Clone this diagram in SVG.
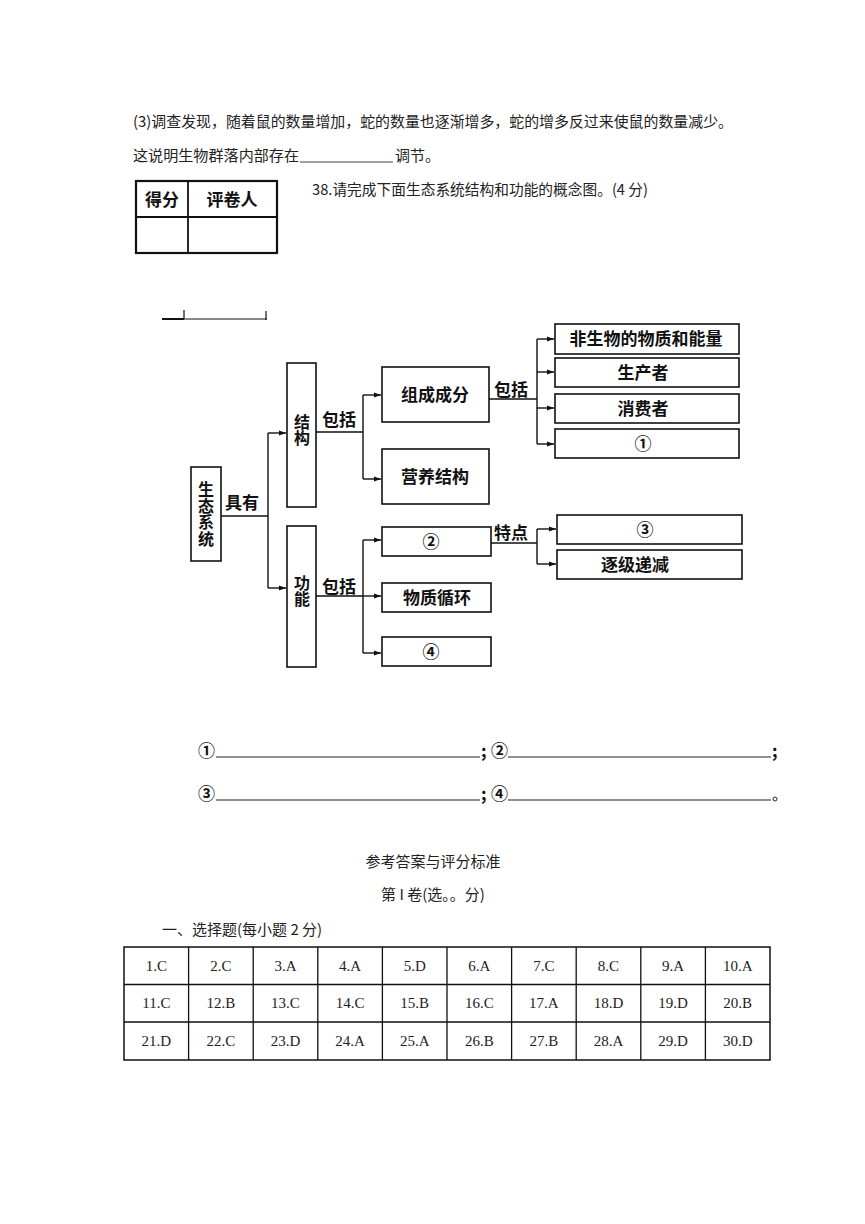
<svg xmlns="http://www.w3.org/2000/svg" width="865" height="1224" viewBox="0 0 865 1224">
<style>
.t{font-family:"Noto Sans CJK SC","Liberation Serif",sans-serif;font-size:15px;fill:#222}
.b{font-family:"Noto Sans CJK SC",sans-serif;font-size:17px;font-weight:bold;fill:#111}
.v{font-family:"Noto Sans CJK SC",sans-serif;font-size:16px;font-weight:bold;fill:#111;writing-mode:vertical-rl}
.box{fill:#fff;stroke:#111;stroke-width:1.6}
.ln{fill:none;stroke:#111;stroke-width:1.4}
.ar{fill:none;stroke:#111;stroke-width:1.4;marker-end:url(#ah)}
.cell{font-family:"Liberation Serif","Noto Sans CJK SC",serif;font-size:15px;fill:#222}
</style>
<defs>
<marker id="ah" markerUnits="userSpaceOnUse" markerWidth="8" markerHeight="6" refX="7" refY="3" orient="auto">
<path d="M0,0.5 L7,3 L0,5.5 z" fill="#111"/>
</marker>
</defs>
<rect width="865" height="1224" fill="#fff"/>

<!-- header text -->
<text class="t" x="133" y="127" textLength="600" lengthAdjust="spacingAndGlyphs">(3)调查发现，随着鼠的数量增加，蛇的数量也逐渐增多，蛇的增多反过来使鼠的数量减少。</text>
<text class="t" x="133" y="161" textLength="166" lengthAdjust="spacingAndGlyphs">这说明生物群落内部存在</text>
<line x1="300" y1="162" x2="393" y2="162" stroke="#444" stroke-width="1"/>
<text class="t" x="395" y="161">调节。</text>

<g id="score-table">
<rect x="136" y="181" width="141" height="72" fill="none" stroke="#111" stroke-width="2.2"/>
<line x1="136" y1="217" x2="277" y2="217" stroke="#111" stroke-width="1.8"/>
<line x1="188" y1="181" x2="188" y2="253" stroke="#111" stroke-width="1.8"/>
<text class="b" x="162" y="206" text-anchor="middle" font-size="16">得分</text>
<text class="b" x="232" y="206" text-anchor="middle" font-size="16">评卷人</text>
</g>
<text class="t" x="312" y="195" textLength="336" lengthAdjust="spacingAndGlyphs">38.请完成下面生态系统结构和功能的概念图。(4 分)</text>

<!-- small mark -->
<path d="M162,319 H267 M184,310 V319 M266,311 V320" fill="none" stroke="#111" stroke-width="1.2"/>
<path d="M162,319 H184" fill="none" stroke="#111" stroke-width="2"/>

<g id="connectors">
<path class="ln" d="M221,516 H268 M268,433 V588"/>
<path class="ar" d="M268,433 H286"/>
<path class="ar" d="M268,588 H286"/>
<path class="ln" d="M316,432 H363 M363,395 V479"/>
<path class="ar" d="M363,395 H381"/>
<path class="ar" d="M363,479 H381"/>
<path class="ln" d="M316,596 H363 M363,540 V653"/>
<path class="ar" d="M363,540 H381"/>
<path class="ar" d="M363,596 H381"/>
<path class="ar" d="M363,653 H381"/>
<path class="ln" d="M489,399 H537 M537,339 V444"/>
<path class="ar" d="M537,339 H554"/>
<path class="ar" d="M537,372 H554"/>
<path class="ar" d="M537,408 H554"/>
<path class="ar" d="M537,444 H554"/>
<path class="ln" d="M491,543 H537 M537,529 V564"/>
<path class="ar" d="M537,529 H556"/>
<path class="ar" d="M537,564 H556"/>
<text class="b" x="225" y="509" font-size="16">具有</text>
<text class="b" x="322" y="426" font-size="16">包括</text>
<text class="b" x="322" y="593" font-size="16">包括</text>
<text class="b" x="494" y="396" font-size="16">包括</text>
<text class="b" x="494" y="539" font-size="16">特点</text>
</g>

<g id="n-ecosystem">
<rect class="box" x="191" y="467" width="30" height="94"/>
<text class="v" x="206" y="481" letter-spacing="0.5">生态系统</text>
</g>
<g id="n-structure">
<rect class="box" x="287" y="363" width="29" height="144"/>
<text class="v" x="302" y="414">结构</text>
</g>
<g id="n-function">
<rect class="box" x="287" y="526" width="29" height="141"/>
<text class="v" x="302" y="575">功能</text>
</g>
<g id="n-components">
<rect class="box" x="382" y="367" width="107" height="55"/>
<text class="b" x="435" y="401" text-anchor="middle">组成成分</text>
</g>
<g id="n-trophic">
<rect class="box" x="382" y="449" width="107" height="55"/>
<text class="b" x="435" y="483" text-anchor="middle">营养结构</text>
</g>
<g id="n-2">
<rect class="box" x="382" y="527" width="109" height="29"/>
<text class="b" x="431" y="548" text-anchor="middle">②</text>
</g>
<g id="n-cycle">
<rect class="box" x="382" y="583" width="109" height="29"/>
<text class="b" x="437" y="604" text-anchor="middle">物质循环</text>
</g>
<g id="n-4">
<rect class="box" x="382" y="637" width="109" height="29"/>
<text class="b" x="431" y="658" text-anchor="middle">④</text>
</g>
<g id="n-abiotic">
<rect class="box" x="555" y="324" width="184" height="30"/>
<text class="b" x="646" y="345" text-anchor="middle">非生物的物质和能量</text>
</g>
<g id="n-producer">
<rect class="box" x="555" y="358" width="184" height="29"/>
<text class="b" x="643" y="379" text-anchor="middle">生产者</text>
</g>
<g id="n-consumer">
<rect class="box" x="555" y="394" width="184" height="29"/>
<text class="b" x="643" y="415" text-anchor="middle">消费者</text>
</g>
<g id="n-1">
<rect class="box" x="555" y="429" width="184" height="29"/>
<text class="b" x="643" y="450" text-anchor="middle" font-weight="normal">①</text>
</g>
<g id="n-3">
<rect class="box" x="557" y="515" width="185" height="29"/>
<text class="b" x="645" y="536" text-anchor="middle">③</text>
</g>
<g id="n-decrease">
<rect class="box" x="557" y="550" width="185" height="29"/>
<text class="b" x="635" y="571" text-anchor="middle">逐级递减</text>
</g>

<!-- answer lines -->
<g id="answers">
<text class="b" x="198" y="757">①</text>
<line x1="216" y1="757" x2="480" y2="757" stroke="#222" stroke-width="1.2"/>
<text class="b" x="481" y="757">;</text>
<text class="b" x="491" y="757">②</text>
<line x1="508" y1="757" x2="771" y2="757" stroke="#222" stroke-width="1.2"/>
<text class="b" x="772" y="757">;</text>
<text class="b" x="198" y="800">③</text>
<line x1="216" y1="800" x2="480" y2="800" stroke="#222" stroke-width="1.2"/>
<text class="b" x="481" y="800">;</text>
<text class="b" x="491" y="800">④</text>
<line x1="508" y1="800" x2="771" y2="800" stroke="#222" stroke-width="1.2"/>
<circle cx="775" cy="799" r="2" fill="none" stroke="#222" stroke-width="1"/>
</g>

<text class="t" x="433" y="867" text-anchor="middle">参考答案与评分标准</text>
<text class="t" x="433" y="900" text-anchor="middle">第 I 卷(选。。分)</text>
<text class="t" x="162" y="935">一、选择题(每小题 2 分)</text>

<g id="answer-table">
<rect x="124" y="947" width="646" height="113" fill="none" stroke="#111" stroke-width="1.5"/>
<path d="M124,984.5 H770 M124,1022 H770 M188.6,947 V1060 M253.2,947 V1060 M317.8,947 V1060 M382.4,947 V1060 M447,947 V1060 M511.6,947 V1060 M576.2,947 V1060 M640.8,947 V1060 M705.4,947 V1060" fill="none" stroke="#111" stroke-width="1.3"/>
<g class="cell" text-anchor="middle">
<text x="156.3" y="971">1.C</text><text x="220.9" y="971">2.C</text><text x="285.5" y="971">3.A</text><text x="350.1" y="971">4.A</text><text x="414.7" y="971">5.D</text><text x="479.3" y="971">6.A</text><text x="543.9" y="971">7.C</text><text x="608.5" y="971">8.C</text><text x="673.1" y="971">9.A</text><text x="737.7" y="971">10.A</text>
<text x="156.3" y="1008">11.C</text><text x="220.9" y="1008">12.B</text><text x="285.5" y="1008">13.C</text><text x="350.1" y="1008">14.C</text><text x="414.7" y="1008">15.B</text><text x="479.3" y="1008">16.C</text><text x="543.9" y="1008">17.A</text><text x="608.5" y="1008">18.D</text><text x="673.1" y="1008">19.D</text><text x="737.7" y="1008">20.B</text>
<text x="156.3" y="1046">21.D</text><text x="220.9" y="1046">22.C</text><text x="285.5" y="1046">23.D</text><text x="350.1" y="1046">24.A</text><text x="414.7" y="1046">25.A</text><text x="479.3" y="1046">26.B</text><text x="543.9" y="1046">27.B</text><text x="608.5" y="1046">28.A</text><text x="673.1" y="1046">29.D</text><text x="737.7" y="1046">30.D</text>
</g>
</g>
</svg>
